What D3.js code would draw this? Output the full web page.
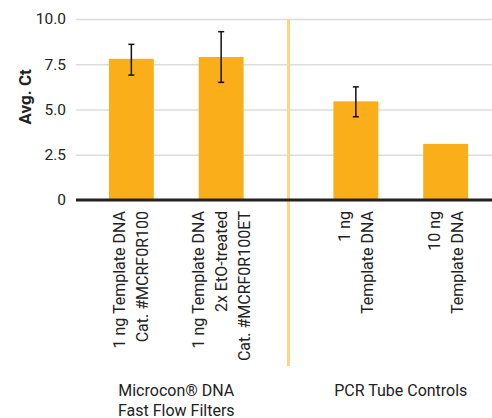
<!DOCTYPE html>
<html>
<head>
<meta charset="utf-8">
<script src="https://cdn.jsdelivr.net/npm/d3@7"></script>
<style>
  body { margin: 0; background: #fff; }
  text { font-family: Roboto, "Liberation Sans", Arial, sans-serif; fill: #222; }
</style>
</head>
<body>
<svg id="chart" width="492" height="418"></svg>
<script>
// data
var groups = ["Microcon® DNA|Fast Flow Filters", "PCR Tube Controls"];
var categories = [
  "1 ng Template DNA|Cat. #MCRF0R100",
  "1 ng Template DNA|2x EtO-treated|Cat. #MCRF0R100ET",
  "1 ng|Template DNA",
  "10 ng|Template DNA"
];
var categoryGroup = [0, 0, 1, 1];
var values = [7.8, 7.9, 5.45, 3.1];
var errLow = [6.9, 6.5, 4.6, null];
var errHigh = [8.6, 9.3, 6.25, null];
var yTicks = [0, 2.5, 5, 7.5, 10];
var yTickLabels = ["0", "2.5", "5.0", "7.5", "10.0"];

var svg = d3.select("#chart"),
  WIDTH = 492,
  HEIGHT = 418,
  MARGINS = { top: 19, right: 0, bottom: 218, left: 76 };

// scales
var yScale = d3.scaleLinear().domain([0, 10]).range([HEIGHT - MARGINS.bottom, MARGINS.top]);
var xGroup = d3.scaleBand().domain(d3.range(groups.length)).range([64, 513]);
var xInner = d3.scaleBand().domain([0, 1]).range([0, xGroup.bandwidth()]).paddingInner(0.5).paddingOuter(0.5);

function barX(i) {
  var inGroup = categoryGroup.slice(0, i).filter(function(g) { return g === categoryGroup[i]; }).length;
  return xGroup(categoryGroup[i]) + xInner(inGroup);
}

// gridlines + y labels
var yAxis = d3.axisLeft(yScale)
  .tickValues(yTicks)
  .tickFormat(function(d, i) { return yTickLabels[i]; })
  .tickSize(-(WIDTH - MARGINS.left - MARGINS.right))
  .tickPadding(10);

var gy = svg.append("g")
  .attr("transform", "translate(" + MARGINS.left + ",0)")
  .call(yAxis);
gy.select(".domain").remove();
gy.selectAll(".tick line").attr("stroke", "#dcdcdc").attr("stroke-width", 1.5);
gy.selectAll(".tick text")
  .attr("font-size", 15.5)
  .attr("font-family", "Roboto, sans-serif")
  .attr("fill", "#222");

svg.append("text")
  .attr("transform", "translate(31," + yScale(5.7) + ") rotate(-90)")
  .attr("text-anchor", "middle")
  .attr("font-size", 17)
  .attr("font-weight", "bold")
  .text("Avg. Ct");

// group divider
svg.append("line")
  .attr("x1", xGroup(1)).attr("x2", xGroup(1))
  .attr("y1", MARGINS.top).attr("y2", 366)
  .attr("stroke", "#fdd488").attr("stroke-width", 3);

// bars
svg.selectAll("rect.bar")
  .data(values)
  .enter().append("rect")
  .attr("class", "bar")
  .attr("x", function(d, i) { return barX(i); })
  .attr("width", xInner.bandwidth())
  .attr("y", function(d) { return yScale(d); })
  .attr("height", function(d) { return yScale(0) - yScale(d); })
  .attr("fill", "#f9ae1a");

// error bars
var errs = values.map(function(d, i) { return { i: i, lo: errLow[i], hi: errHigh[i] }; })
  .filter(function(e) { return e.lo != null; });
var eb = svg.selectAll("g.err").data(errs).enter().append("g")
  .attr("transform", function(e) { return "translate(" + (barX(e.i) + xInner.bandwidth() / 2) + ",0)"; })
  .attr("stroke", "#111").attr("stroke-width", 1.5);
eb.append("line").attr("y1", function(e) { return yScale(e.lo); }).attr("y2", function(e) { return yScale(e.hi); });
eb.append("line").attr("x1", -3).attr("x2", 3).attr("y1", function(e) { return yScale(e.hi); }).attr("y2", function(e) { return yScale(e.hi); });
eb.append("line").attr("x1", -3).attr("x2", 3).attr("y1", function(e) { return yScale(e.lo); }).attr("y2", function(e) { return yScale(e.lo); });

// zero axis line
svg.append("line")
  .attr("x1", MARGINS.left).attr("x2", WIDTH)
  .attr("y1", yScale(0)).attr("y2", yScale(0))
  .attr("stroke", "#222").attr("stroke-width", 3);

// category labels, rotated
var lineGap = 23;
categories.forEach(function(c, i) {
  var lines = c.split("|");
  var cx = barX(i) + xInner.bandwidth() / 2;
  var g = svg.append("g").attr("transform", "translate(" + cx + "," + (yScale(0) + 11) + ") rotate(-90)");
  lines.forEach(function(l, k) {
    g.append("text")
      .attr("text-anchor", "end")
      .attr("y", (k - (lines.length - 1) / 2) * lineGap + 5.5)
      .attr("font-size", 16)
      .text(l);
  });
});

// group labels
groups.forEach(function(gname, j) {
  var lines = gname.split("|");
  lines.forEach(function(l, k) {
    svg.append("text")
      .attr("x", xGroup(j) + xInner(0) + xInner.bandwidth() / 2 + xInner.step() / 2)
      .attr("y", 396 + k * 19.5)
      .attr("text-anchor", "middle")
      .attr("font-family", "'Open Sans', sans-serif")
      .attr("font-size", 16)
      .text(l);
  });
});
</script>
</body>
</html>
